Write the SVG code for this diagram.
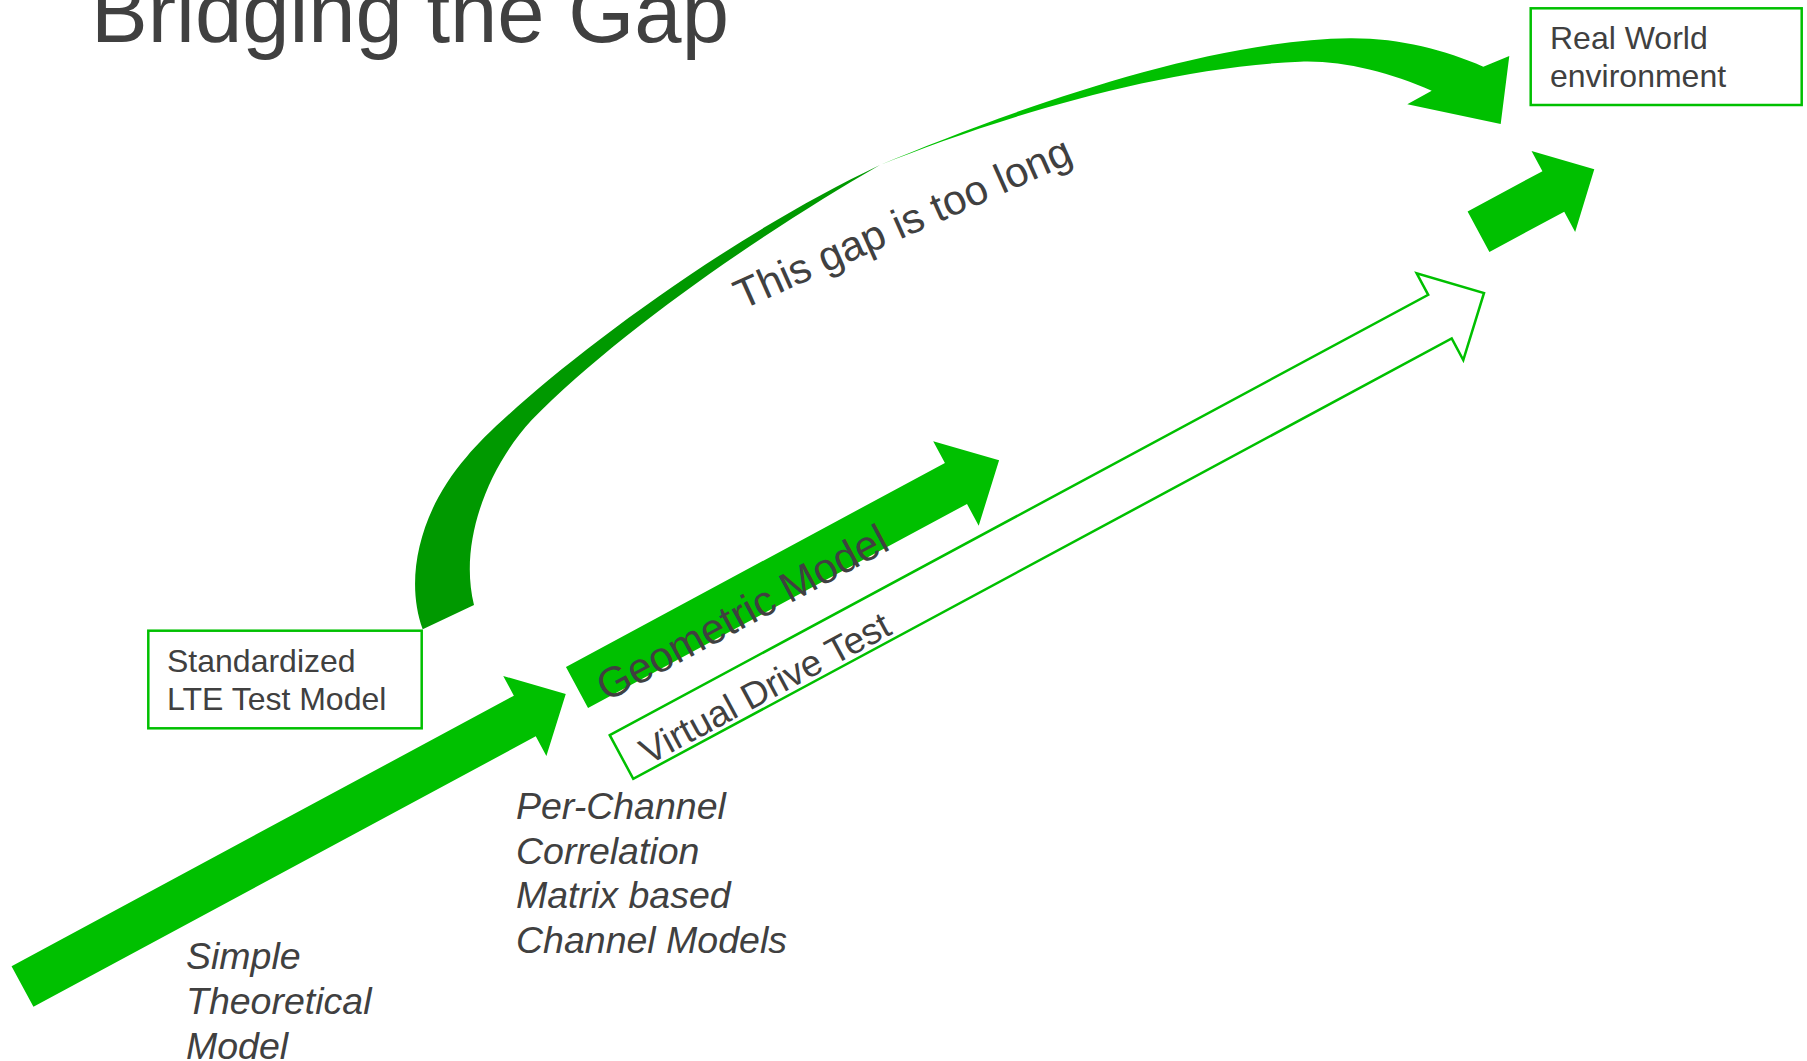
<svg xmlns="http://www.w3.org/2000/svg" width="1807" height="1061" viewBox="0 0 1807 1061">
  <style>
    .txt { font-family: "Liberation Sans", Arial, Helvetica, sans-serif; fill: #404040; }
    .it { font-style: italic; font-size: 37.5px; }
    .box { fill: #ffffff; stroke: #00c000; stroke-width: 2.5; }
    .boxtxt { font-size: 32px; }
    .solid { fill: #00c000; }
    .dark { fill: #009900; }
    .hollow { fill: #ffffff; stroke: #00c000; stroke-width: 2.5; stroke-linejoin: miter; }
  </style>
  <rect x="0" y="0" width="1807" height="1061" fill="#ffffff"/>

  <!-- heading -->
  <text id="title" class="txt" x="91" y="42" font-size="85">Bridging the Gap</text>

  <!-- connectors: block arrows -->
  <g id="connectors">
    <!-- step 1: simple theoretical model -> per-channel models -->
    <polygon id="arrow-simple" class="solid" transform="translate(22.5,986.5) rotate(-28.3)"
      points="0,-23.1 570.5,-23.1 570.5,-45.5 617,0 570.5,45.5 570.5,23.1 0,23.1"/>
    <!-- step 2: geometric model -->
    <polygon id="arrow-geometric" class="solid" transform="translate(577,687.5) rotate(-28.3)"
      points="0,-23.3 430.4,-23.3 430.4,-48 479.4,0 430.4,48 430.4,23.3 0,23.3"/>
    <!-- step 3: virtual drive test (outline) -->
    <polygon id="arrow-vdt" class="hollow" transform="translate(621.5,757) rotate(-28.28)"
      points="0,-24.8 929.4,-24.8 929.4,-49.2 979.4,0 929.4,49.2 929.4,24.8 0,24.8"/>
    <!-- final step towards real world -->
    <polygon id="arrow-final" class="solid" transform="translate(1478.5,231.7) rotate(-28.3)"
      points="0,-23 85,-23 85,-46 131.5,0 85,46 85,23 0,23"/>
    <!-- curved arrow from LTE test model to real world -->
    <g id="arrow-gap">
      <path class="dark" d="M422.7,629.3 C404,578 420,510 466.7,456.7 C512,402 700,250 880,165 C770,228 620,330 531.7,420 C490,465 458,540 474,605 Z"/>
      <path class="solid" d="M880,165 C1000,115 1200,40 1350,38.3 C1400,38 1445,50 1483.3,66.7 L1509.3,56 L1500.7,124 L1407.3,104.3 L1431.7,90.7 C1390,72 1340,60 1300,61.7 C1150,68 980,125 880,165 Z"/>
    </g>
    <!-- arrow captions -->
    <text id="label-gap" class="txt" font-size="42" transform="translate(742,310) rotate(-24)">This gap is too long</text>
    <text id="label-geometric" class="txt" font-size="42.5" transform="translate(577,687.5) rotate(-28.3)" x="19" y="27">Geometric Model</text>
    <text id="label-vdt" class="txt" font-size="37" transform="translate(621.5,757) rotate(-28.28)" x="20" y="20">Virtual Drive Test</text>
  </g>

  <!-- nodes -->
  <g id="node-lte">
    <rect class="box" x="148.3" y="630.7" width="273.4" height="97.6"/>
    <text class="txt boxtxt" x="167" y="672">Standardized</text>
    <text class="txt boxtxt" x="167" y="710">LTE Test Model</text>
  </g>

  <g id="node-real">
    <rect class="box" x="1530.7" y="8.3" width="271" height="96.7"/>
    <text class="txt boxtxt" x="1550" y="49">Real World</text>
    <text class="txt boxtxt" x="1550" y="87">environment</text>
  </g>

  <g id="node-simple">
    <text class="txt it" x="186" y="969">Simple</text>
    <text class="txt it" x="186" y="1014">Theoretical</text>
    <text class="txt it" x="186" y="1059">Model</text>
  </g>

  <g id="node-perchannel">
    <text class="txt it" x="516" y="819">Per-Channel</text>
    <text class="txt it" x="516" y="864">Correlation</text>
    <text class="txt it" x="516" y="908">Matrix based</text>
    <text class="txt it" x="516" y="953">Channel Models</text>
  </g>
</svg>
